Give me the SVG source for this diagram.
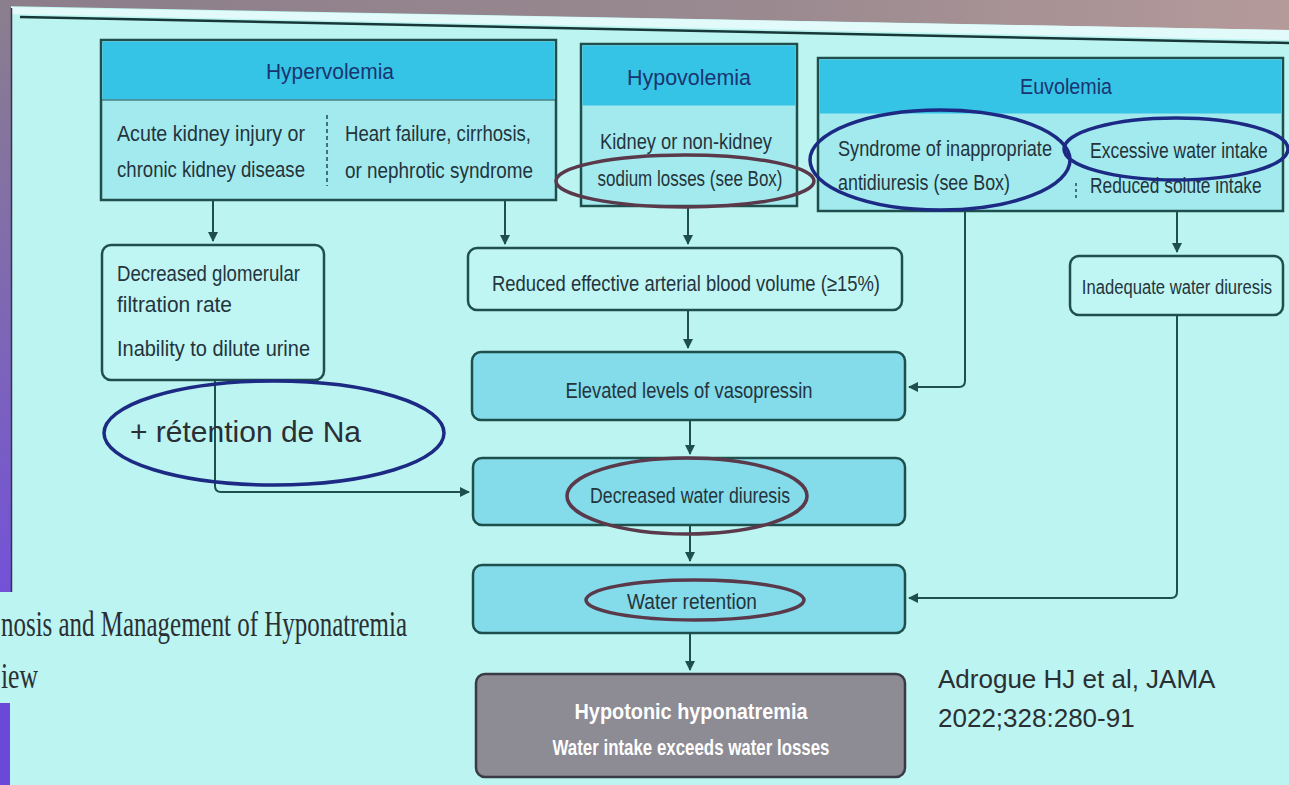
<svg xmlns="http://www.w3.org/2000/svg" width="1289" height="785" viewBox="0 0 1289 785">
<defs>
<linearGradient id="lb" x1="0" y1="0" x2="0" y2="1">
<stop offset="0" stop-color="#8a7f8c"/>
<stop offset="1" stop-color="#7352d8"/>
</linearGradient>
<linearGradient id="tg" x1="0" y1="0" x2="1" y2="0">
<stop offset="0" stop-color="#8b7d8a"/>
<stop offset="0.6" stop-color="#9a8a90"/>
<stop offset="1" stop-color="#b59a9a"/>
</linearGradient>
<marker id="ah" viewBox="0 0 10 10" refX="9" refY="5" markerWidth="5" markerHeight="5" orient="auto">
<path d="M0,0 L10,5 L0,10 z" fill="#1f4f4c"/>
</marker>
<style>
.t{font-family:"Liberation Sans",Arial,sans-serif;font-size:22px;fill:#24343c}
.h{font-family:"Liberation Sans",Arial,sans-serif;font-size:22px;fill:#1a3470}
.w{font-family:"Liberation Sans",Arial,sans-serif;font-size:22px;font-weight:bold;fill:#ffffff}
.c{font-family:"Liberation Sans",Arial,sans-serif;font-size:26px;fill:#2a2f33}
.s{font-family:"Liberation Serif",serif;font-size:36px;fill:#2a2f33}
.box{fill:#a3eaee;stroke:#1f4f4c;stroke-width:2.5}
.hdr{fill:#36c4e6}
.pl{fill:#bff5f3;stroke:#1f4f4c;stroke-width:2.5}
.bl{fill:#84dbea;stroke:#1f4f4c;stroke-width:2.5}
.gr{fill:#8d8b93;stroke:#3a3a44;stroke-width:2.5}
.cn{fill:none;stroke:#1f4f4c;stroke-width:2}
.nv{fill:none;stroke:#1c2a84;stroke-width:3.5}
.br{fill:none;stroke:#5a3a4a;stroke-width:3.5}
</style>
</defs>
<rect x="0" y="0" width="1289" height="785" fill="#bcf4f1"/>
<polygon points="0,0 1289,0 1289,30 0,6" fill="url(#tg)"/>
<polygon points="10,7 1289,30 1289,40 10,14" fill="#e2fbfa"/>
<line x1="20" y1="17" x2="1289" y2="43" stroke="#183838" stroke-width="2.5"/>
<rect x="0" y="0" width="11" height="592" fill="url(#lb)"/>
<rect x="0" y="703" width="10" height="82" fill="#6b48d8"/>
<line x1="11.5" y1="8" x2="11.5" y2="592" stroke="#3a3050" stroke-width="1.5"/>

<g id="hypervolemia">
<rect class="box" x="101" y="40" width="455" height="160"/>
<rect class="hdr" x="102.5" y="41.5" width="452" height="58"/>
<line x1="101" y1="100" x2="556" y2="100" stroke="#1f4f4c" stroke-width="1"/>
<text class="h" x="330" y="79" text-anchor="middle" textLength="128" lengthAdjust="spacingAndGlyphs">Hypervolemia</text>
<text class="t" x="117" y="141" textLength="188" lengthAdjust="spacingAndGlyphs">Acute kidney injury or</text>
<text class="t" x="117" y="177" textLength="188" lengthAdjust="spacingAndGlyphs">chronic kidney disease</text>
<line x1="327" y1="115" x2="327" y2="186" stroke="#1f4f4c" stroke-width="1.5" stroke-dasharray="4,3"/>
<text class="t" x="345" y="141" textLength="186" lengthAdjust="spacingAndGlyphs">Heart failure, cirrhosis,</text>
<text class="t" x="345" y="178" textLength="188" lengthAdjust="spacingAndGlyphs">or nephrotic syndrome</text>
</g>

<g id="hypovolemia">
<rect class="box" x="581" y="44" width="216" height="162"/>
<rect class="hdr" x="582.5" y="45.5" width="213" height="60"/>
<text class="h" x="689" y="85" text-anchor="middle" textLength="124" lengthAdjust="spacingAndGlyphs">Hypovolemia</text>
<text class="t" x="686" y="149" text-anchor="middle" textLength="172" lengthAdjust="spacingAndGlyphs">Kidney or non-kidney</text>
<text class="t" x="690" y="186" text-anchor="middle" textLength="185" lengthAdjust="spacingAndGlyphs">sodium losses (see Box)</text>
</g>

<g id="euvolemia">
<rect class="box" x="818" y="58" width="465" height="153"/>
<rect class="hdr" x="819.5" y="59.5" width="462" height="54"/>
<text class="h" x="1066" y="94" text-anchor="middle" textLength="92" lengthAdjust="spacingAndGlyphs">Euvolemia</text>
<text class="t" x="838" y="156" textLength="214" lengthAdjust="spacingAndGlyphs">Syndrome of inappropriate</text>
<text class="t" x="838" y="190" textLength="172" lengthAdjust="spacingAndGlyphs">antidiuresis (see Box)</text>
<line x1="1076" y1="183" x2="1076" y2="198" stroke="#1f4f4c" stroke-width="1.5" stroke-dasharray="3,3"/>
<text class="t" transform="translate(1090,158) scale(0.78,1)" x="0" y="0" textLength="228" lengthAdjust="spacingAndGlyphs">Excessive water intake</text>
<text class="t" transform="translate(1090,193) scale(0.78,1)" x="0" y="0" textLength="220" lengthAdjust="spacingAndGlyphs">Reduced solute intake</text>
</g>

<g id="gfr">
<rect class="pl" x="102" y="245" width="222" height="135" rx="9"/>
<text class="t" x="117" y="281" textLength="183" lengthAdjust="spacingAndGlyphs">Decreased glomerular</text>
<text class="t" x="117" y="312" textLength="115" lengthAdjust="spacingAndGlyphs">filtration rate</text>
<text class="t" x="117" y="356" textLength="193" lengthAdjust="spacingAndGlyphs">Inability to dilute urine</text>
</g>

<g id="reduced">
<rect class="pl" x="468" y="248" width="434" height="62" rx="9"/>
<text class="t" x="686" y="291" text-anchor="middle" textLength="388" lengthAdjust="spacingAndGlyphs">Reduced effective arterial blood volume (≥15%)</text>
</g>

<g id="inadequate">
<rect class="pl" x="1070" y="256" width="213" height="59" rx="9"/>
<text class="t" transform="translate(1177,294) scale(0.78,1)" x="0" y="0" text-anchor="middle" textLength="244" lengthAdjust="spacingAndGlyphs" style="font-size:21px">Inadequate water diuresis</text>
</g>

<g id="vasopressin">
<rect class="bl" x="472" y="352" width="433" height="68" rx="9"/>
<text class="t" x="689" y="398" text-anchor="middle" textLength="247" lengthAdjust="spacingAndGlyphs">Elevated levels of vasopressin</text>
</g>

<g id="diuresis">
<rect class="bl" x="473" y="458" width="432" height="67" rx="9"/>
<text class="t" x="690" y="503" text-anchor="middle" textLength="200" lengthAdjust="spacingAndGlyphs">Decreased water diuresis</text>
</g>

<g id="retention">
<rect class="bl" x="473" y="565" width="432" height="68" rx="9"/>
<text class="t" x="692" y="609" text-anchor="middle" textLength="130" lengthAdjust="spacingAndGlyphs">Water retention</text>
</g>

<g id="hyponatremia">
<rect class="gr" x="476" y="674" width="429" height="103" rx="9"/>
<text class="w" x="691" y="719" text-anchor="middle" textLength="233" lengthAdjust="spacingAndGlyphs">Hypotonic hyponatremia</text>
<text class="w" x="691" y="755" text-anchor="middle" textLength="277" lengthAdjust="spacingAndGlyphs">Water intake exceeds water losses</text>
</g>

<g id="connectors">
<path class="cn" d="M213,200 V241" marker-end="url(#ah)"/>
<path class="cn" d="M505,200 V244" marker-end="url(#ah)"/>
<path class="cn" d="M688,206 V244" marker-end="url(#ah)"/>
<path class="cn" d="M688,310 V348" marker-end="url(#ah)"/>
<path class="cn" d="M965,211 V381 Q965,387 959,387 H909" marker-end="url(#ah)"/>
<path class="cn" d="M1177,211 V252" marker-end="url(#ah)"/>
<path class="cn" d="M1177,315 V592 Q1177,598 1171,598 H909" marker-end="url(#ah)"/>
<path class="cn" d="M215,380 V486 Q215,492 221,492 H469" marker-end="url(#ah)"/>
<path class="cn" d="M690,420 V454" marker-end="url(#ah)"/>
<path class="cn" d="M690,525 V561" marker-end="url(#ah)"/>
<path class="cn" d="M690,633 V670" marker-end="url(#ah)"/>
</g>

<g id="annotations">
<ellipse class="br" cx="685" cy="181" rx="129" ry="26"/>
<ellipse class="nv" cx="940" cy="160" rx="130" ry="50"/>
<ellipse class="nv" cx="1176" cy="149" rx="112" ry="31"/>
<ellipse class="nv" cx="274" cy="433" rx="170" ry="52"/>
<text class="c" x="130" y="442" style="font-size:30px">+ rétention de Na</text>
<ellipse class="br" cx="687" cy="496" rx="120" ry="38"/>
<ellipse class="br" cx="695" cy="600" rx="109" ry="20"/>
</g>

<g id="slide-text">
<text class="s" x="1" y="636" textLength="406" lengthAdjust="spacingAndGlyphs">nosis and Management of Hyponatremia</text>
<text class="s" x="1" y="688" textLength="37" lengthAdjust="spacingAndGlyphs">iew</text>
<text class="c" x="938" y="688">Adrogue HJ et al, JAMA</text>
<text class="c" x="938" y="727">2022;328:280-91</text>
</g>
</svg>
